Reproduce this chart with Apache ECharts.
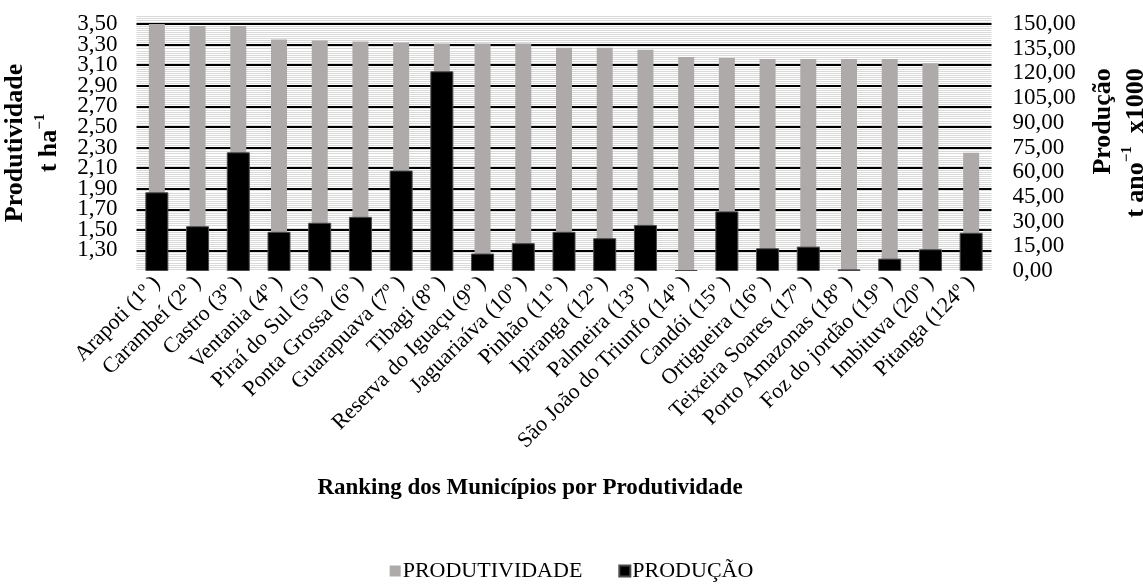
<!DOCTYPE html>
<html>
<head>
<meta charset="utf-8">
<script src="https://cdn.jsdelivr.net/npm/echarts@6/dist/echarts.min.js"></script>
<style>
  html, body { margin: 0; padding: 0; background: #fff; }
  #chart { width: 1143px; height: 588px; }
</style>
</head>
<body>
<div id="chart"></div>
<script>
// Municipalities ranked by productivity
const municipios = [
  'Arapoti (1º )', 'Carambeí (2º )', 'Castro (3º )', 'Ventania (4º )',
  'Piraí do Sul (5º )', 'Ponta Grossa (6º )', 'Guarapuava (7º )', 'Tibagi (8º )',
  'Reserva do Iguaçu (9º )', 'Jaguariaíva (10º )', 'Pinhão (11º )', 'Ipiranga (12º )',
  'Palmeira (13º )', 'São João do Triunfo (14º )', 'Candói (15º )', 'Ortigueira (16º )',
  'Teixeira Soares (17º )', 'Porto Amazonas (18º )', 'Foz do jordão (19º )',
  'Imbituva (20º )', 'Pitanga (124º )'
];

// Productivity, t ha-1 (left axis)
const produtividade = [
  3.50, 3.48, 3.48, 3.35, 3.34, 3.33, 3.32, 3.31, 3.31, 3.31, 3.27,
  3.27, 3.25, 3.18, 3.17, 3.16, 3.16, 3.16, 3.16, 3.12, 2.25
];

// Production, t year-1 x1000 (right axis)
const producao = [
  47.8, 27.2, 72.1, 23.8, 29.3, 32.9, 61.0, 121.3, 10.6, 16.9, 23.8,
  19.9, 28.0, 0.6, 36.2, 13.8, 14.8, 1.0, 7.5, 13.2, 23.2
];

// Axis ranges: tick labels run 1,10..3,50 and 0,00..150,00,
// the plot area keeps a little headroom above the top tick.
const leftAxis = { min: 1.1, max: 3.588, interval: 0.2 };
const rightAxis = { min: 0, max: 155.5, interval: 15 };

const FONT = "'Liberation Serif', 'Times New Roman', serif";
const fmt = v => v.toFixed(2).replace('.', ',');

const chart = echarts.init(document.getElementById('chart'), null, { renderer: 'canvas' });

chart.setOption({
  animation: false,
  backgroundColor: '#ffffff',
  textStyle: { fontFamily: FONT, color: '#000' },
  grid: {
    left: 136.5, right: 151.5, top: 15, bottom: 317,
    containLabel: false,
    outerBoundsMode: 'none'
  },
  legend: {
    bottom: 1,
    left: 'center',
    icon: 'rect',
    itemWidth: 11,
    itemHeight: 11,
    itemGap: 36,
    textStyle: { fontFamily: FONT, fontSize: 22, color: '#000', padding: [0, 0, 0, -3] },
    data: ['PRODUTIVIDADE', 'PRODUÇÃO']
  },
  xAxis: [
    {
      type: 'category',
      data: municipios,
      axisLine: { show: false },
      axisTick: { show: false },
      axisLabel: {
        interval: 0,
        rotate: 45,
        margin: 9,
        fontFamily: FONT,
        fontSize: 22,
        color: '#000'
      },
      name: 'Ranking dos Municípios por Produtividade',
      nameLocation: 'middle',
      nameGap: 206,
      nameTextStyle: {
        fontFamily: FONT, fontSize: 23, fontWeight: 'bold', color: '#000',
        padding: [0, 68, 0, 0]
      }
    },
    {
      type: 'category',
      data: municipios,
      show: false
    }
  ],
  yAxis: [
    {
      type: 'value',
      position: 'left',
      min: leftAxis.min,
      max: leftAxis.max,
      interval: leftAxis.interval,
      axisLine: { show: false },
      axisTick: { show: false },
      axisLabel: {
        showMaxLabel: false,
        margin: 19,
        fontFamily: FONT,
        fontSize: 23,
        color: '#000',
        formatter: fmt
      },
      splitLine: {
        show: true,
        showMinLine: false,
        showMaxLine: false,
        lineStyle: { color: '#000', width: 2 }
      },
      minorTick: { show: false, splitNumber: 10 },
      minorSplitLine: { show: true, lineStyle: { color: '#d9d9d9', width: 1 } },
      name: '{b|Produtividade}\n{b|t ha}{s|−1}',
      nameLocation: 'middle',
      nameRotate: 90,
      nameGap: 64,
      nameTextStyle: {
        fontFamily: FONT,
        fontSize: 26,
        fontWeight: 'bold',
        color: '#000',
        lineHeight: 34,
        rich: {
          b: { fontFamily: FONT, fontSize: 26, fontWeight: 'bold', color: '#000', lineHeight: 34 },
          s: { fontFamily: FONT, fontSize: 15, fontWeight: 'bold', color: '#000', verticalAlign: 'top', lineHeight: 34 }
        }
      }
    },
    {
      type: 'value',
      position: 'right',
      min: rightAxis.min,
      max: rightAxis.max,
      interval: rightAxis.interval,
      axisLine: { show: false },
      axisTick: { show: false },
      splitLine: { show: false },
      axisLabel: {
        showMaxLabel: false,
        margin: 21,
        fontFamily: FONT,
        fontSize: 23,
        color: '#000',
        formatter: fmt
      },
      name: '{r|Produção}\n{b|t ano}{s|−1}{b|  x1000}',
      nameLocation: 'middle',
      nameRotate: 90,
      nameGap: 95,
      nameTextStyle: {
        fontFamily: FONT,
        fontSize: 26,
        fontWeight: 'bold',
        color: '#000',
        lineHeight: 33,
        rich: {
          r: { fontFamily: FONT, fontSize: 26, fontWeight: 'bold', color: '#000', lineHeight: 33, align: 'right' },
          b: { fontFamily: FONT, fontSize: 26, fontWeight: 'bold', color: '#000', lineHeight: 33 },
          s: { fontFamily: FONT, fontSize: 15, fontWeight: 'bold', color: '#000', verticalAlign: 'top', lineHeight: 33 }
        }
      }
    }
  ],
  series: [
    {
      name: 'PRODUTIVIDADE',
      type: 'bar',
      xAxisIndex: 0,
      yAxisIndex: 0,
      data: produtividade,
      barWidth: 16,
      itemStyle: { color: '#AEAAAA' },
      z: 2
    },
    {
      name: 'PRODUÇÃO',
      type: 'bar',
      xAxisIndex: 1,
      yAxisIndex: 1,
      data: producao,
      barWidth: 23,
      itemStyle: { color: '#000000', borderColor: '#4a4a4a', borderWidth: 1 },
      z: 3
    }
  ]
});
</script>
</body>
</html>
